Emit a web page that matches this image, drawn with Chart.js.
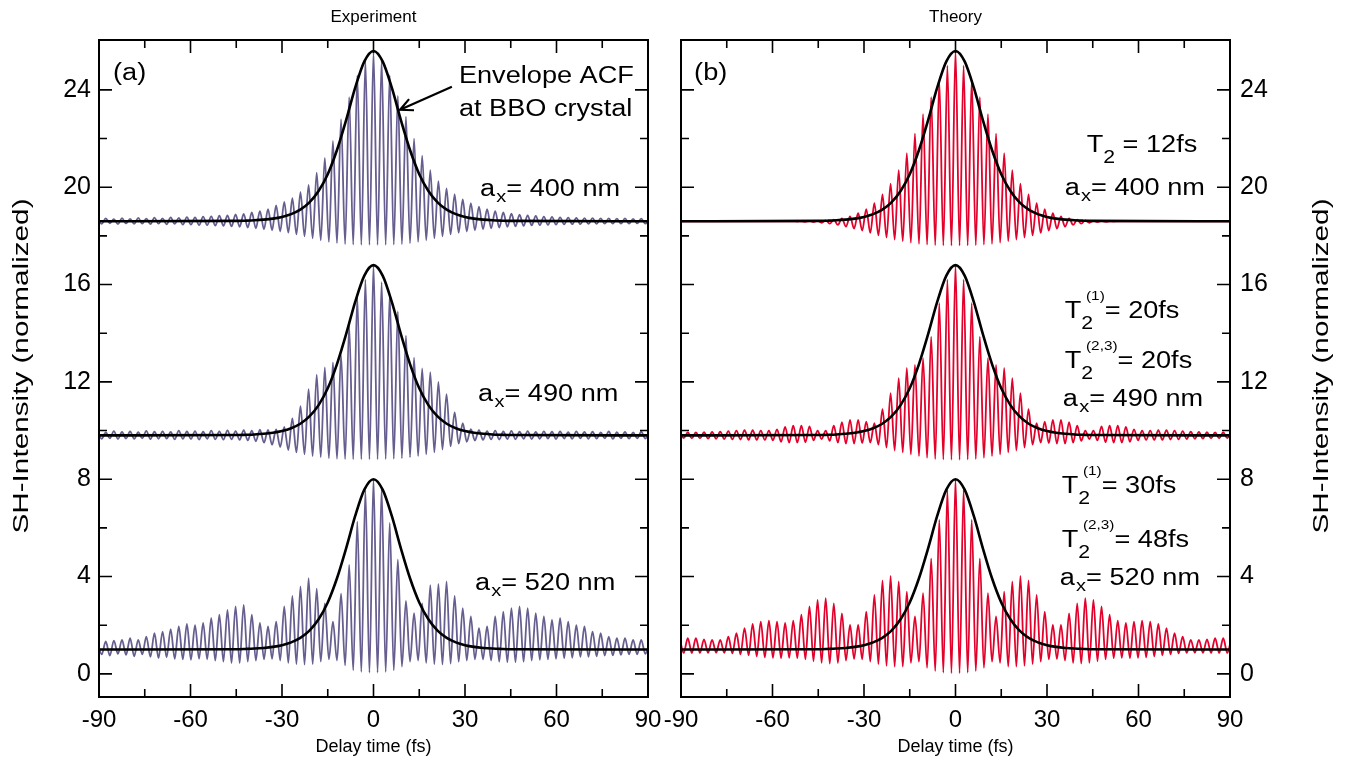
<!DOCTYPE html>
<html>
<head>
<meta charset="utf-8">
<script src="https://cdn.jsdelivr.net/npm/chart.js@4.4.1/dist/chart.umd.min.js"></script>
<style>
html, body { margin: 0; padding: 0; background: #fff; }
#wrap { position: relative; width: 1346px; height: 768px; overflow: hidden; }
#left { position: absolute; left: 0; top: 0; }
#right { position: absolute; left: 660px; top: 0; }
</style>
</head>
<body>
<div id="wrap">
  <canvas id="left" width="665" height="768"></canvas>
  <canvas id="right" width="686" height="768"></canvas>
</div>
<script>
// ---------------- DATA ----------------
// fringe orders k = -34 .. 34, peak at k*T, trough at (k+0.5)*T
const fringePeriod = 2.66;   // fs
const firstFringe = -34;
const xTicks = [-90, -60, -30, 0, 30, 60, 90];
const yTicks = [0, 4, 8, 12, 16, 20, 24];
const traceOffsets = [17.6, 8.8, 0];   // top, middle, bottom trace

// envelope ACF (same for every trace, baseline 1, peak 8)
const envTimes = [-90,-45,-42,-39,-36,-33,-30,-27,-24,-21,-18,-15,-12,-9,-6,-3,0,3,6,9,12,15,18,21,24,27,30,33,36,39,42,45,90];
const envValues = [1,1.015,1.025,1.04,1.067,1.109,1.18,1.295,1.48,1.78,2.245,2.936,3.92,5.15,6.49,7.57,8,7.57,6.49,5.15,3.92,2.936,2.245,1.78,1.48,1.295,1.18,1.109,1.067,1.04,1.025,1.015,1];

// Experiment, a_x = 400 nm
const expTopPeaks = [1.08,1.12,1.09,1.13,1.1,1.14,1.11,1.15,1.12,1.16,1.14,1.17,1.16,1.19,1.2,1.23,1.24,1.28,1.3,1.36,1.42,1.5,1.65,1.8,1.95,2.2,2.5,3.0,3.6,4.3,5.2,6.1,7.0,7.6,
  7.95,
  7.6,7.0,6.15,5.3,4.4,3.7,3.1,2.65,2.35,2.1,1.9,1.75,1.6,1.5,1.42,1.36,1.31,1.27,1.24,1.22,1.19,1.18,1.16,1.15,1.14,1.13,1.13,1.12,1.12,1.11,1.12,1.1,1.11,1.1];
const expTopTroughs = [0.89,0.92,0.88,0.91,0.89,0.9,0.88,0.9,0.87,0.89,0.86,0.86,0.84,0.84,0.82,0.81,0.79,0.77,0.74,0.71,0.67,0.63,0.58,0.53,0.46,0.38,0.3,0.22,0.15,0.1,0.06,0.04,0.03,0.03,
  0.03,0.03,0.04,0.06,0.1,0.15,0.22,0.3,0.38,0.46,0.53,0.58,0.63,0.67,0.71,0.74,0.77,0.79,0.81,0.83,0.84,0.85,0.86,0.87,0.88,0.88,0.89,0.89,0.9,0.9,0.9,0.9,0.91,0.9];

// Experiment, a_x = 490 nm
const expMidPeaks = [1.15,1.12,1.18,1.14,1.16,1.13,1.19,1.15,1.17,1.14,1.2,1.16,1.18,1.15,1.2,1.17,1.21,1.18,1.22,1.2,1.24,1.23,1.25,1.35,1.7,2.2,2.9,3.5,3.8,4.0,4.3,5.5,6.7,7.4,
  8.0,
  7.3,6.8,6.1,5.1,4.2,3.75,3.6,3.2,2.7,1.95,1.5,1.26,1.22,1.18,1.2,1.16,1.19,1.15,1.18,1.14,1.17,1.15,1.16,1.13,1.17,1.14,1.15,1.12,1.16,1.13,1.14,1.12,1.15,1.13];
const expMidTroughs = [0.86,0.88,0.85,0.87,0.86,0.88,0.85,0.86,0.87,0.84,0.86,0.85,0.83,0.86,0.84,0.83,0.84,0.82,0.8,0.76,0.7,0.62,0.52,0.4,0.3,0.22,0.15,0.1,0.06,0.04,0.03,0.02,0.02,0.02,
  0.02,0.03,0.04,0.06,0.1,0.15,0.22,0.3,0.42,0.55,0.66,0.74,0.79,0.82,0.84,0.83,0.85,0.84,0.86,0.85,0.86,0.87,0.85,0.87,0.86,0.88,0.86,0.87,0.88,0.86,0.88,0.87,0.88,0.87];

// Experiment, a_x = 520 nm
const expBotPeaks = [1.3,1.33,1.37,1.4,1.47,1.4,1.53,1.67,1.74,1.84,1.95,2.05,2.0,2.1,2.29,2.43,2.63,2.77,2.84,2.43,2.1,1.95,2.15,2.77,3.2,3.6,3.93,3.5,2.9,2.15,3.3,4.48,6.26,7.55,
  8.0,
  7.6,6.2,4.7,3.0,2.5,2.9,3.65,3.7,3.8,3.2,2.7,2.36,1.88,1.95,2.36,2.56,2.7,2.77,2.7,2.5,2.36,2.22,2.29,2.15,2.0,1.95,1.74,1.67,1.53,1.47,1.47,1.4,1.4,1.26];
const expBotTroughs = [0.8,0.75,0.82,0.78,0.72,0.8,0.7,0.65,0.68,0.62,0.6,0.58,0.62,0.6,0.55,0.5,0.45,0.45,0.5,0.55,0.6,0.62,0.55,0.45,0.4,0.38,0.4,0.5,0.6,0.55,0.35,0.15,0.08,0.05,
  0.05,0.08,0.15,0.3,0.5,0.55,0.45,0.4,0.38,0.42,0.5,0.55,0.6,0.6,0.55,0.5,0.48,0.48,0.5,0.55,0.58,0.6,0.62,0.65,0.66,0.7,0.7,0.72,0.75,0.76,0.78,0.8,0.8,0.82];

// Theory, T2 = 12 fs, a_x = 400 nm
const thTopPeaks = [1,1,1,1,1,1,1,1,1,1,1,1,1,1,1,1,1.01,1.02,1.04,1.07,1.12,1.2,1.33,1.5,1.75,2.1,2.55,3.1,3.8,4.6,5.4,6.1,6.8,7.4,
  8.0,
  7.4,6.8,6.1,5.4,4.6,3.8,3.1,2.55,2.1,1.75,1.5,1.33,1.2,1.12,1.07,1.04,1.02,1.01,1,1,1,1,1,1,1,1,1,1,1,1,1,1,1,1];
const thTopTroughs = [1,1,1,1,1,1,1,1,1,1,1,1,1,1,0.99,0.98,0.97,0.94,0.9,0.85,0.78,0.7,0.62,0.52,0.42,0.33,0.25,0.18,0.12,0.07,0.04,0.02,0.01,0,
  0,0.01,0.02,0.04,0.07,0.12,0.18,0.25,0.33,0.42,0.52,0.62,0.7,0.78,0.85,0.9,0.94,0.97,0.98,0.99,1,1,1,1,1,1,1,1,1,1,1,1,1,1];

// Theory, T2(1) = 20 fs, T2(2,3) = 20 fs, a_x = 490 nm
const thMidPeaks = [1.12,1.12,1.12,1.13,1.14,1.15,1.18,1.2,1.22,1.22,1.2,1.2,1.25,1.35,1.4,1.4,1.37,1.2,1.2,1.4,1.55,1.64,1.64,1.57,1.5,2.08,2.74,3.35,3.77,3.9,4.18,5.06,6.44,7.4,
  8.0,
  7.4,6.44,5.06,4.18,3.9,3.77,3.35,2.74,2.08,1.5,1.57,1.64,1.64,1.55,1.4,1.2,1.2,1.37,1.4,1.4,1.35,1.25,1.2,1.2,1.22,1.22,1.2,1.18,1.15,1.14,1.13,1.12,1.12,1.12];
const thMidTroughs = [0.89,0.88,0.88,0.87,0.86,0.85,0.84,0.83,0.82,0.82,0.82,0.8,0.74,0.7,0.7,0.72,0.8,0.85,0.78,0.7,0.66,0.66,0.68,0.7,0.62,0.5,0.38,0.3,0.22,0.15,0.08,0.03,0.01,0,
  0,0.01,0.03,0.08,0.15,0.22,0.3,0.38,0.5,0.62,0.7,0.68,0.66,0.66,0.7,0.78,0.85,0.8,0.72,0.7,0.7,0.74,0.8,0.82,0.82,0.82,0.83,0.84,0.85,0.86,0.87,0.88,0.88,0.89];

// Theory, T2(1) = 30 fs, T2(2,3) = 48 fs, a_x = 520 nm
const thBotPeaks = [1.47,1.47,1.47,1.42,1.4,1.4,1.53,1.67,1.88,2.05,2.15,2.19,2.15,2.1,2.19,2.43,2.77,3.04,3.11,2.9,2.49,2.01,2.01,2.56,3.25,3.84,4.03,3.8,3.38,2.36,3.32,4.75,6.33,7.56,
  8.0,
  7.56,6.33,4.75,3.32,2.36,3.38,3.8,4.03,3.84,3.25,2.56,2.01,2.01,2.49,2.9,3.11,3.04,2.77,2.43,2.19,2.1,2.15,2.19,2.15,2.05,1.88,1.67,1.53,1.4,1.4,1.42,1.47,1.47,1.47];
const thBotTroughs = [0.86,0.86,0.86,0.86,0.87,0.86,0.84,0.8,0.76,0.72,0.68,0.66,0.65,0.66,0.65,0.6,0.52,0.45,0.42,0.45,0.55,0.62,0.6,0.5,0.4,0.33,0.3,0.3,0.45,0.5,0.25,0.12,0.05,0.03,
  0.03,0.05,0.12,0.25,0.5,0.45,0.3,0.3,0.33,0.4,0.5,0.6,0.62,0.55,0.45,0.42,0.45,0.52,0.6,0.65,0.66,0.65,0.66,0.68,0.72,0.76,0.8,0.84,0.86,0.87,0.86,0.86,0.86,0.86];

// ---------------- STYLE ----------------
const FONT = '"Liberation Sans", Arial, Helvetica, sans-serif';
const EXP_COLOR = '#685d8f';
const TH_COLOR = '#e3002b';
const NOTE_STRETCH = 1.18;   // labels in the figure are a bit wider than Arial

// ---------------- HELPERS ----------------
function fringePoints(peaks, troughs, offset) {
  const pts = [];
  for (let i = 0; i < peaks.length; i++) {
    const k = firstFringe + i;
    pts.push({ x: k * fringePeriod, y: peaks[i] + offset });
    if (i < troughs.length) pts.push({ x: (k + 0.5) * fringePeriod, y: troughs[i] + offset });
  }
  return pts;
}

function traceSet(peaks, troughs, offset, color) {
  return {
    data: fringePoints(peaks, troughs, offset),
    borderColor: color,
    borderWidth: 1.8,
    pointRadius: 0,
    cubicInterpolationMode: 'monotone',
    order: 2
  };
}

function envelopeSet(offset) {
  return {
    data: envTimes.map((t, i) => ({ x: t, y: envValues[i] + offset })),
    borderColor: '#000',
    borderWidth: 2.6,
    pointRadius: 0,
    cubicInterpolationMode: 'monotone',
    order: 1
  };
}

// parts: plain strings, {x:'x'} subscript, {sub:'2', sup:'(1)'}
function drawParts(ctx, x, y, parts) {
  ctx.save();
  ctx.translate(x, y);
  ctx.scale(NOTE_STRETCH, 1);
  let cx = 0;
  for (const p of parts) {
    if (typeof p === 'string') {
      ctx.font = '23px ' + FONT;
      ctx.fillText(p, cx, 0);
      cx += ctx.measureText(p).width;
    } else if (p.x) {
      ctx.font = '17px ' + FONT;
      ctx.fillText(p.x, cx + 1, 6);
      cx += ctx.measureText(p.x).width + 1;
    } else {
      ctx.font = '18px ' + FONT;
      ctx.fillText(p.sub, cx, 11);
      let w = ctx.measureText(p.sub).width;
      if (p.sup) {
        ctx.font = '13px ' + FONT;
        ctx.fillText(p.sup, cx + 4, -18);
        w = Math.max(w, 4 + ctx.measureText(p.sup).width);
      }
      cx += w;
    }
  }
  ctx.restore();
}

const decor = {
  id: 'decor',
  afterDraw(chart, args, opts) {
    const { ctx, chartArea: a } = chart;
    const xs = chart.scales.x, ys = chart.scales.y;
    ctx.save();
    ctx.fillStyle = '#000';
    ctx.strokeStyle = '#000';

    // frame
    ctx.lineWidth = 2;
    ctx.strokeRect(a.left, a.top, a.right - a.left, a.bottom - a.top);

    // inward tick marks on all four sides
    ctx.lineWidth = 1.6;
    ctx.beginPath();
    for (let v = -75; v <= 75; v += 15) {
      const len = v % 30 === 0 ? 13 : 8;
      const px = xs.getPixelForValue(v);
      ctx.moveTo(px, a.top); ctx.lineTo(px, a.top + len);
      ctx.moveTo(px, a.bottom); ctx.lineTo(px, a.bottom - len);
    }
    for (let v = 0; v <= 24; v += 2) {
      const len = v % 4 === 0 ? 13 : 8;
      const py = ys.getPixelForValue(v);
      ctx.moveTo(a.left, py); ctx.lineTo(a.left + len, py);
      ctx.moveTo(a.right, py); ctx.lineTo(a.right - len, py);
    }
    ctx.stroke();

    const cxm = (a.left + a.right) / 2;
    ctx.textAlign = 'center';
    ctx.textBaseline = 'middle';
    ctx.font = '17px ' + FONT;
    ctx.fillText(opts.title, cxm, 17);
    ctx.font = '18px ' + FONT;
    ctx.fillText('Delay time (fs)', cxm, 747);

    // y axis title, reading bottom to top
    ctx.save();
    ctx.translate(opts.yTitleX, 366);
    ctx.rotate(-Math.PI / 2);
    ctx.scale(1.35, 1);
    ctx.font = '22px ' + FONT;
    ctx.fillText('SH-Intensity (normalized)', 0, 0);
    ctx.restore();

    // labels inside the panel
    ctx.textAlign = 'left';
    ctx.textBaseline = 'alphabetic';
    for (const n of opts.notes) {
      drawParts(ctx, xs.getPixelForValue(n.t), ys.getPixelForValue(n.v), n.parts);
    }

    // arrow
    if (opts.arrow) {
      const [t1, v1, t2, v2] = opts.arrow;
      const x1 = xs.getPixelForValue(t1), y1 = ys.getPixelForValue(v1);
      const x2 = xs.getPixelForValue(t2), y2 = ys.getPixelForValue(v2);
      const ang = Math.atan2(y2 - y1, x2 - x1);
      ctx.lineWidth = 2.2;
      ctx.beginPath();
      ctx.moveTo(x1, y1); ctx.lineTo(x2, y2);
      ctx.moveTo(x2 - 14 * Math.cos(ang - 0.45), y2 - 14 * Math.sin(ang - 0.45));
      ctx.lineTo(x2, y2);
      ctx.lineTo(x2 - 14 * Math.cos(ang + 0.45), y2 - 14 * Math.sin(ang + 0.45));
      ctx.stroke();
    }
    ctx.restore();
  }
};

function makePanel(id, side, datasets, decorOpts) {
  return new Chart(document.getElementById(id), {
    type: 'line',
    data: { datasets },
    options: {
      responsive: false,
      animation: false,
      events: [],
      layout: { padding: side === 'left' ? { top: 40, right: 17 } : { top: 40, left: 21 } },
      plugins: { legend: { display: false }, tooltip: { enabled: false }, decor: decorOpts },
      scales: {
        x: {
          type: 'linear', min: -90, max: 90,
          afterBuildTicks: s => { s.ticks = xTicks.map(v => ({ value: v })); },
          afterFit: s => { s.height = 71; s.paddingLeft = 0; s.paddingRight = 0; },
          grid: { display: false, drawTicks: false },
          border: { display: false },
          ticks: { font: { family: FONT, size: 24 }, color: '#000', padding: 9, maxRotation: 0 }
        },
        y: {
          type: 'linear', position: side, min: -0.95, max: 26.05,
          afterBuildTicks: s => { s.ticks = yTicks.map(v => ({ value: v })); },
          afterFit: s => { s.width = side === 'left' ? 99 : 116; s.paddingTop = 0; s.paddingBottom = 0; },
          grid: { display: false, drawTicks: false },
          border: { display: false },
          ticks: { font: { family: FONT, size: 25 }, color: '#000', padding: side === 'left' ? 8 : 10 }
        }
      }
    },
    plugins: [decor]
  });
}

const leftSets = [
  envelopeSet(traceOffsets[0]), envelopeSet(traceOffsets[1]), envelopeSet(traceOffsets[2]),
  traceSet(expTopPeaks, expTopTroughs, traceOffsets[0], EXP_COLOR),
  traceSet(expMidPeaks, expMidTroughs, traceOffsets[1], EXP_COLOR),
  traceSet(expBotPeaks, expBotTroughs, traceOffsets[2], EXP_COLOR)
];
const rightSets = [
  envelopeSet(traceOffsets[0]), envelopeSet(traceOffsets[1]), envelopeSet(traceOffsets[2]),
  traceSet(thTopPeaks, thTopTroughs, traceOffsets[0], TH_COLOR),
  traceSet(thMidPeaks, thMidTroughs, traceOffsets[1], TH_COLOR),
  traceSet(thBotPeaks, thBotTroughs, traceOffsets[2], TH_COLOR)
];

makePanel('left', 'left', leftSets, {
  title: 'Experiment',
  yTitleX: 22,
  notes: [
    { t: -85.4, v: 24.41, parts: ['(a)'] },
    { t: 28.0, v: 24.27, parts: ['Envelope ACF'] },
    { t: 28.0, v: 22.93, parts: ['at BBO crystal'] },
    { t: 34.9, v: 19.62, parts: ['a', { x: 'x' }, '= 400 nm'] },
    { t: 34.3, v: 11.22, parts: ['a', { x: 'x' }, '= 490 nm'] },
    { t: 33.3, v: 3.45, parts: ['a', { x: 'x' }, '= 520 nm'] }
  ],
  arrow: [25.7, 24.13, 8.7, 23.18]
});

makePanel('right', 'right', rightSets, {
  title: 'Theory',
  yTitleX: 662,
  notes: [
    { t: -85.7, v: 24.41, parts: ['(b)'] },
    { t: 43.0, v: 21.43, parts: ['T', { sub: '2' }, ' = 12fs'] },
    { t: 35.8, v: 19.69, parts: ['a', { x: 'x' }, '= 400 nm'] },
    { t: 35.8, v: 14.63, parts: ['T', { sub: '2', sup: '(1)' }, '= 20fs'] },
    { t: 35.8, v: 12.56, parts: ['T', { sub: '2', sup: '(2,3)' }, '= 20fs'] },
    { t: 35.2, v: 10.99, parts: ['a', { x: 'x' }, '= 490 nm'] },
    { t: 34.8, v: 7.43, parts: ['T', { sub: '2', sup: '(1)' }, '= 30fs'] },
    { t: 34.8, v: 5.23, parts: ['T', { sub: '2', sup: '(2,3)' }, '= 48fs'] },
    { t: 34.2, v: 3.66, parts: ['a', { x: 'x' }, '= 520 nm'] }
  ]
});
</script>
</body>
</html>
